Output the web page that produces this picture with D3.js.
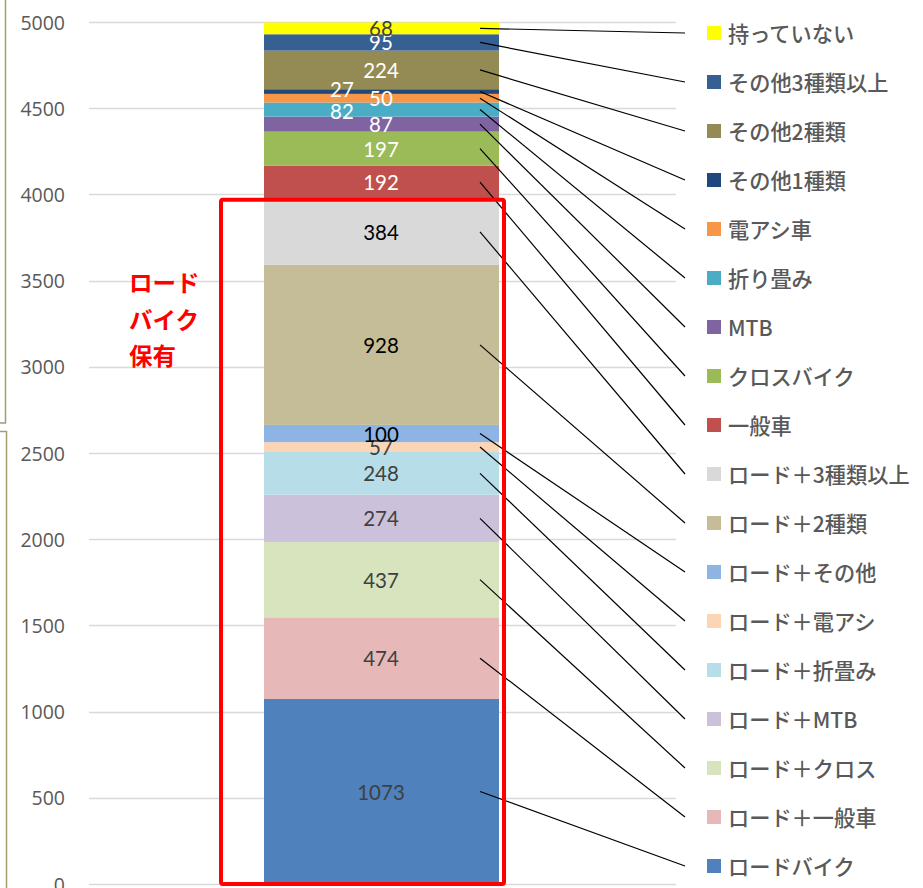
<!DOCTYPE html>
<html>
<head>
<meta charset="utf-8">
<script src="https://cdn.jsdelivr.net/npm/d3@7"></script>
<style>
    body { margin: 0; background: #fff; }
    svg { display: block; }
</style>
</head>
<body>
<div id="chart"></div>
<script>
// bar segments, bottom to top
var categories = ["ロードバイク", "ロード＋一般車", "ロード＋クロス", "ロード＋MTB", "ロード＋折畳み",
    "ロード＋電アシ", "ロード＋その他", "ロード＋2種類", "ロード＋3種類以上", "一般車", "クロスバイク",
    "MTB", "折り畳み", "電アシ車", "その他1種類", "その他2種類", "その他3種類以上", "持っていない"];
var values = [1073, 474, 437, 274, 248, 57, 100, 928, 384, 192, 197, 87, 82, 50, 27, 224, 95, 68];
var yTicks = [0, 500, 1000, 1500, 2000, 2500, 3000, 3500, 4000, 4500, 5000];
var noteLines = ["ロード", "バイク", "保有"];

var colors = ["#4f81bd", "#e6b9b8", "#d7e4bd", "#ccc1da", "#b7dee8", "#fcd5b5", "#8eb4e3", "#c4bd97",
    "#d9d9d9", "#c0504d", "#9bbb59", "#8064a2", "#4bacc6", "#f79646", "#1f497d", "#948a54", "#376092", "#ffff00"];
var labelColors = ["#404040", "#404040", "#404040", "#404040", "#404040", "#404040", "#000", "#000",
    "#000", "#fff", "#fff", "#fff", "#fff", "#fff", "#fff", "#fff", "#fff", "#404040"];
// a few labels are nudged sideways in the original
var labelShift = { "その他1種類": [-39, -3], "折り畳み": [-39, 1] };

var width = 923, height = 888;
var svg = d3.select("#chart").append("svg")
    .attr("width", width)
    .attr("height", height);

var y = d3.scaleLinear().domain([0, 5000]).range([884, 22]);

// stacked data
var stack = [], acc = 0;
values.forEach(function(v, i) {
    stack.push({ name: categories[i], value: v, y0: acc, y1: acc + v, i: i });
    acc += v;
});

// left olive frame pieces
var olive = "#a39e70";
svg.append("path").attr("d", "M0,423 H5.5 V0").attr("fill", "none").attr("stroke", olive).attr("stroke-width", 1.5);
svg.append("path").attr("d", "M0,431.5 H6.5 V888").attr("fill", "none").attr("stroke", olive).attr("stroke-width", 1.5);

// gridlines
svg.append("g").selectAll("line")
    .data(yTicks)
    .enter().append("line")
    .attr("x1", 89).attr("x2", 676)
    .attr("y1", function(d) { return Math.round(y(d)) + 0.5; })
    .attr("y2", function(d) { return Math.round(y(d)) + 0.5; })
    .attr("stroke", "#d9d9d9").attr("stroke-width", 1.3);

// y axis labels
var axis = d3.axisLeft(y).tickValues(yTicks).tickSize(0).tickPadding(0).tickFormat(d3.format("d"));
var gAxis = svg.append("g").attr("transform", "translate(65,0)").call(axis);
gAxis.select(".domain").remove();
gAxis.selectAll("text")
    .attr("font-family", "'Open Sans', sans-serif")
    .attr("font-size", "19.5px")
    .attr("fill", "#595959")
    .attr("dy", "0.36em");

// bar
var bx = 264, bw = 235;
svg.append("g").selectAll("rect")
    .data(stack)
    .enter().append("rect")
    .attr("x", bx)
    .attr("width", bw)
    .attr("y", function(d) { return y(d.y1); })
    .attr("height", function(d) { return y(d.y0) - y(d.y1); })
    .attr("fill", function(d) { return colors[d.i]; });

// legend
var legendY = d3.scaleLinear().domain([categories.length - 1, 0]).range([33, 866]);
var legend = svg.append("g").selectAll("g")
    .data(stack)
    .enter().append("g")
    .attr("transform", function(d) { return "translate(707," + legendY(d.i) + ")"; });
legend.append("rect")
    .attr("x", 0).attr("y", -7).attr("width", 14).attr("height", 14)
    .attr("fill", function(d) { return colors[d.i]; });
legend.append("text")
    .attr("x", 21).attr("y", -0.5)
    .attr("dominant-baseline", "central")
    .attr("font-family", "'Noto Sans CJK JP', sans-serif")
    .attr("font-size", "21.2px")
    .attr("font-weight", 500)
    .attr("fill", "#595959")
    .text(function(d) { return d.name; });

// leader lines
svg.append("g").selectAll("line")
    .data(stack)
    .enter().append("line")
    .attr("x1", 480)
    .attr("y1", function(d) { return y((d.y0 + d.y1) / 2); })
    .attr("x2", 685)
    .attr("y2", function(d) { return legendY(d.i); })
    .attr("stroke", "#000").attr("stroke-width", 1.2);

// value labels
svg.append("g").selectAll("text")
    .data(stack)
    .enter().append("text")
    .attr("x", function(d) { return 381 + (labelShift[d.name] ? labelShift[d.name][0] : 0); })
    .attr("y", function(d) { return y((d.y0 + d.y1) / 2) + (labelShift[d.name] ? labelShift[d.name][1] : 0); })
    .attr("text-anchor", "middle")
    .attr("dominant-baseline", "central")
    .attr("font-family", "Lato, 'Open Sans', sans-serif")
    .attr("font-size", "20.5px")
    .attr("fill", function(d) { return labelColors[d.i]; })
    .text(function(d) { return d.value; });

// red highlight box around the road bike group
var roadTop = stack[8].y1;
var boxTop = y(roadTop) + 1;
svg.append("rect")
    .attr("x", 221).attr("y", boxTop)
    .attr("width", 283).attr("height", 884 - boxTop)
    .attr("rx", 2)
    .attr("fill", "none").attr("stroke", "#ff0000").attr("stroke-width", 4);

svg.append("g").selectAll("text")
    .data(noteLines)
    .enter().append("text")
    .attr("x", 129)
    .attr("y", function(d, i) { return 282 + i * 36.5; })
    .attr("dominant-baseline", "central")
    .attr("font-family", "'Noto Sans CJK JP', sans-serif")
    .attr("font-size", "23.5px")
    .attr("font-weight", "bold")
    .attr("fill", "#ff0000")
    .text(function(d) { return d; });
</script>
</body>
</html>
